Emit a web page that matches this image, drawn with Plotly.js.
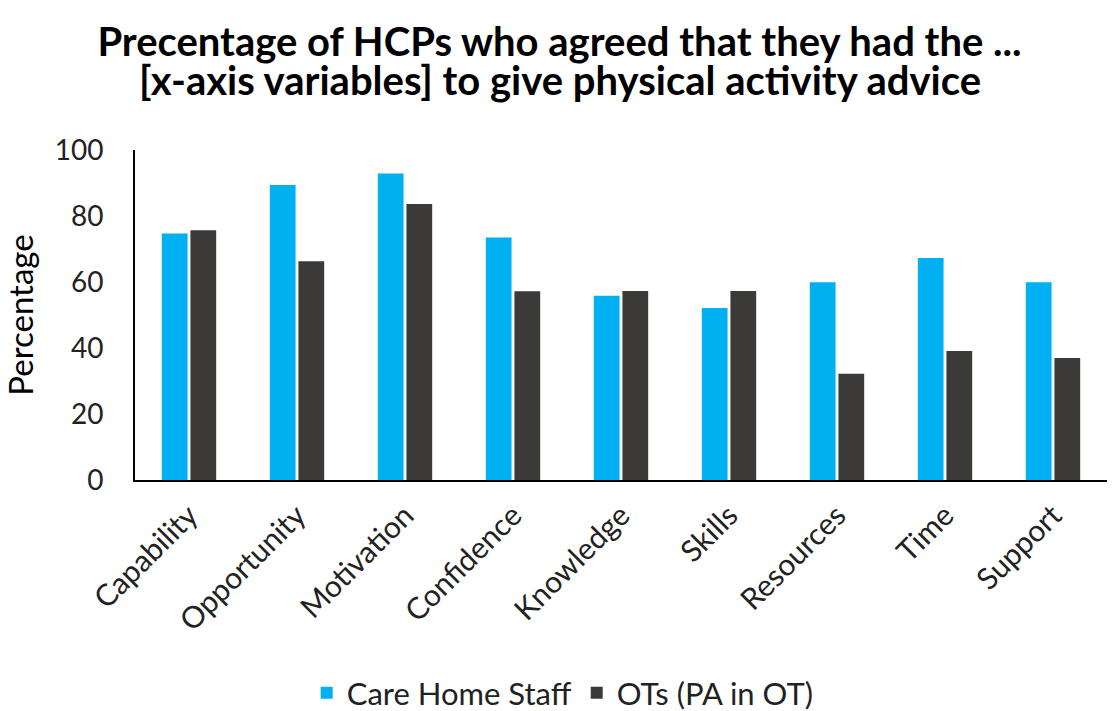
<!DOCTYPE html>
<html>
<head>
<meta charset="utf-8">
<script src="https://cdn.plot.ly/plotly-3.0.1.min.js"></script>
<style>html,body{margin:0;padding:0;background:#fff;}#chart{width:1119px;height:711px;}</style>
</head>
<body>
<div id="chart"></div>
<script>
const categories = ["Capability","Opportunity","Motivation","Confidence","Knowledge","Skills","Resources","Time","Support"];
const careHomeStaff = [74.7, 89.4, 92.9, 73.5, 55.8, 52.1, 59.9, 67.3, 59.9];
const otsPAinOT = [75.7, 66.3, 83.6, 57.2, 57.3, 57.3, 32.2, 39.1, 37.0];
const seriesNames = ["Care Home Staff", "OTs (PA in OT)"];
const yTicks = [0, 20, 40, 60, 80, 100];
const titleLines = ["Precentage of HCPs who agreed that they had the ...", "[x-axis variables] to give physical activity advice"];

const font = "Lato, 'Open Sans', 'Noto Sans', sans-serif";
const traces = [
  {type:"bar", x:categories, y:careHomeStaff, name:seriesNames[0], marker:{color:"#00B0F0"}},
  {type:"bar", x:categories, y:otsPAinOT, name:seriesNames[1], marker:{color:"#3B3A39"}}
];
const layout = {
  width:1119, height:711,
  paper_bgcolor:"#fff", plot_bgcolor:"#fff",
  margin:{l:135, r:12, t:150, b:231},
  font:{family:font, color:"#000"},
  title:{text:"<b>" + titleLines[0] + "</b>",
         font:{size:40, family:font, color:"#000"}, x:0.5, xanchor:"center",
         yref:"container", y:1 - 42/711, yanchor:"middle"},
  annotations:[
    {text:"<b>" + titleLines[1] + "</b>", xref:"paper", yref:"paper", x:(560-135)/972, y:(480-80)/330,
     xanchor:"center", yanchor:"middle", showarrow:false, font:{size:40, family:font, color:"#000"}}
  ],
  barmode:"group", bargap:0.47, bargroupgap:0.1,
  xaxis:{showline:true, linecolor:"#000", linewidth:2, tickangle:-45, tickfont:{size:30, color:"#222"},
         ticks:"", showgrid:false, zeroline:false, ticklabelstandoff:4, automargin:false},
  yaxis:{range:[0,100], tickvals:yTicks, showline:true, linecolor:"#000", linewidth:2, showgrid:false, zeroline:false,
         ticks:"", tickfont:{size:28, color:"#222"}, ticklabelstandoff:24, automargin:false,
         title:{text:"Percentage", font:{size:33, color:"#000"}, standoff:14}},
  legend:{orientation:"h", x:0.44, xanchor:"center", yref:"container", y:1 - 693/711, yanchor:"middle",
          font:{size:31, color:"#222"}, itemwidth:30, traceorder:"normal"},
  showlegend:true
};
Plotly.newPlot("chart", traces, layout, {displayModeBar:false, staticPlot:true});
</script>
</body>
</html>
